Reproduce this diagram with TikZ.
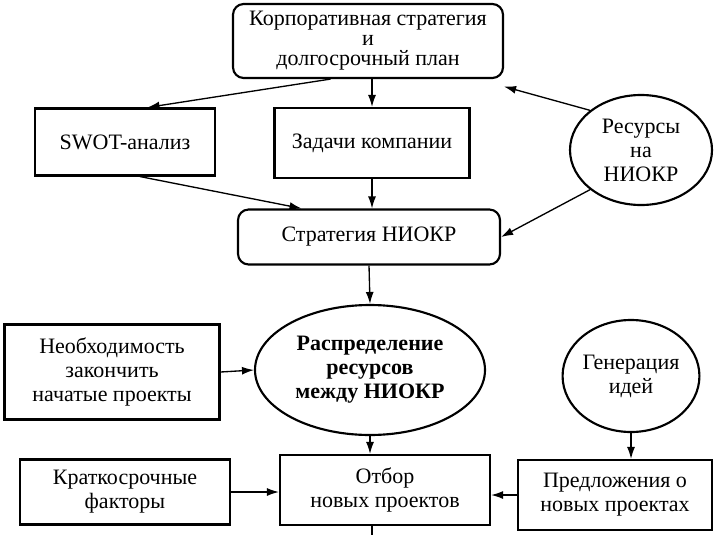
\documentclass[tikz,border=0pt]{standalone}
\usepackage{fontspec}
\setmainfont{Liberation Serif}
\usetikzlibrary{shapes.geometric,arrows.meta,positioning}
\tikzset{
  box/.style={draw,line width=1.6pt,align=center,font=\fontsize{16.5}{18}\selectfont},
  rbox/.style={box,rounded corners=8pt},
  oval/.style={draw,line width=1.6pt,ellipse,align=center,inner sep=0pt,font=\fontsize{16.5}{18}\selectfont},
  arr/.style={-{Latex[length=9pt,width=6pt]},line width=1pt}
}
\begin{document}
\begin{tikzpicture}[x=1pt,y=-1pt,scale=0.75]
\useasboundingbox (0,0) rectangle (720,535);
\node[rbox,minimum width=270*0.75pt,minimum height=74*0.75pt,inner sep=1pt,font=\fontsize{16.5}{15}\selectfont] (plan) at (368,41) {Корпоративная стратегия\\и\\долгосрочный план};
\node[box,minimum width=180*0.75pt,minimum height=67*0.75pt] (swot) at (125,142) {SWOT-анализ};
\node[box,minimum width=195*0.75pt,minimum height=70*0.75pt] (tasks) at (372,143) {Задачи компании};
\node[oval,minimum width=142*0.75pt,minimum height=110*0.75pt] (res) at (641,150) {Ресурсы\\на\\НИОКР};
\node[rbox,minimum width=262*0.75pt,minimum height=55*0.75pt] (str) at (369,237) {Стратегия НИОКР};
\node[box,minimum width=215*0.75pt,minimum height=95*0.75pt] (need) at (112,372) {Необходимость\\закончить\\начатые проекты};
\node[oval,minimum width=230*0.75pt,minimum height=130*0.75pt,font=\fontsize{16.5}{18}\selectfont\bfseries] (alloc) at (370,370) {Распределение\\ресурсов\\между НИОКР};
\node[oval,minimum width=133*0.75pt,minimum height=112*0.75pt] (gen) at (631,376) {Генерация\\идей};
\node[box,minimum width=210*0.75pt,minimum height=65*0.75pt] (short) at (125,492) {Краткосрочные\\факторы};
\node[box,minimum width=210*0.75pt,minimum height=70*0.75pt] (sel) at (385,490) {Отбор\\новых проектов};
\node[box,minimum width=194*0.75pt,minimum height=70*0.75pt,inner sep=1pt] (prop) at (615,495) {Предложения о\\новых проектах};
\coordinate (end) at (372,535);
% arrows
\draw[arr] (plan.south-|tasks) -- (tasks.north);
\draw[arr] ([xshift=-50*0.75pt]plan.south) -- ([xshift=30*0.75pt]swot.north);
\draw[arr] (res.north west) -- ([yshift=-10*0.75pt]plan.south east);
\draw[arr] ([xshift=20*0.75pt]swot.south) -- ([xshift=-90*0.75pt]str.north);
\draw[arr] (tasks.south) -- (tasks.south|-str.north);
\draw[arr] (res.south west) -- (str.east);
\draw[arr] (str.south) -- (alloc.north);
\draw[arr] (need.east) -- (alloc.west);
\draw[arr] (alloc.south) -- (alloc.south|-sel.north);
\draw[arr] (gen.south) -- (gen.south|-prop.north);
\draw[arr] (short.east) -- (short.east-|sel.west);
\draw[arr] (prop.west) -- (prop.west-|sel.east);
\draw[line width=1pt] (sel.south-|end) -- (end);
\end{tikzpicture}
\end{document}
